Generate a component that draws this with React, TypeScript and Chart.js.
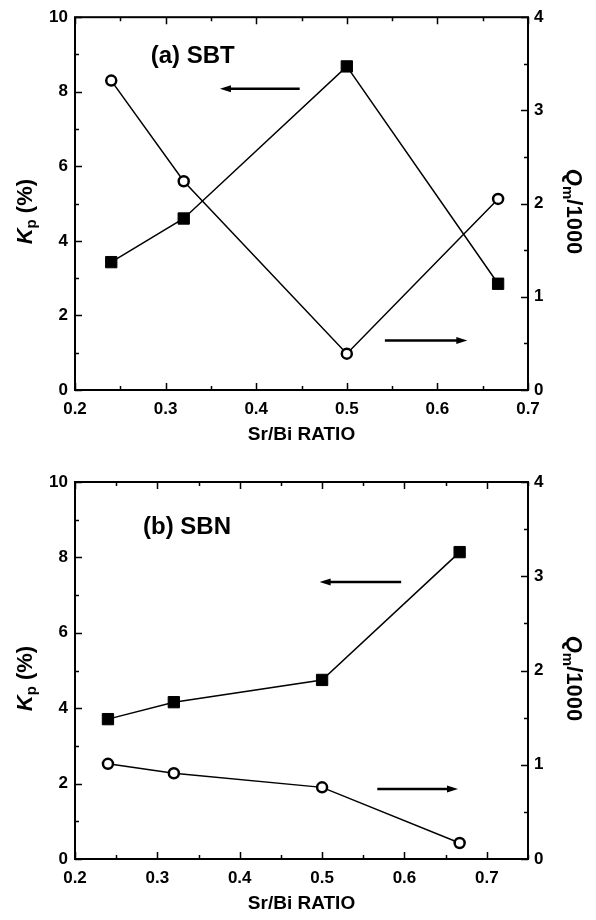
import React, { useEffect, useRef } from 'react';
import { Chart, registerables } from 'chart.js';

Chart.register(...registerables);

// ---- data ----
const sbtRatio = [0.24, 0.32, 0.5, 0.667];
const sbtKp = [3.43, 4.6, 8.68, 2.85];
const sbtQm = [3.32, 2.24, 0.39, 2.05];

const sbnRatio = [0.24, 0.32, 0.5, 0.667];
const sbnKp = [3.71, 4.16, 4.75, 8.14];
const sbnQm = [1.01, 0.91, 0.76, 0.17];

const xTickLabels = [0.2, 0.3, 0.4, 0.5, 0.6, 0.7];
const kpTickLabels = [0, 2, 4, 6, 8, 10];
const qmTickLabels = [0, 1, 2, 3, 4];

const panelTitles = ['(a) SBT', '(b) SBN'];
const xTitle = 'Sr/Bi RATIO';

// arrows: [tail x, head x, Kp value] in data units
const sbtArrows = [
  [0.448, 0.36, 8.08],
  [0.542, 0.633, 1.33],
];
const sbnArrows = [
  [0.596, 0.497, 7.35],
  [0.567, 0.665, 1.86],
];

const FONT = '"Liberation Sans", Arial, Helvetica, sans-serif';

function drawRich(ctx: CanvasRenderingContext2D, parts: any[], cx: number, cy: number, angle: number) {
  ctx.save();
  ctx.translate(cx, cy);
  ctx.rotate(angle);
  ctx.textBaseline = 'middle';
  ctx.textAlign = 'left';
  let total = 0;
  const widths = parts.map((p) => {
    ctx.font = p.font;
    const w = ctx.measureText(p.text).width;
    total += w;
    return w;
  });
  let x = -total / 2;
  parts.forEach((p, i) => {
    ctx.font = p.font;
    ctx.fillStyle = '#000';
    ctx.fillText(p.text, x, p.dy || 0);
    x += widths[i];
  });
  ctx.restore();
}

function makePlugin(p: any) {
  return {
    id: 'decor' + p.key,
    afterDatasetsDraw(chart: any) {
      const { ctx, chartArea } = chart;
      const { left, right, top, bottom } = chartArea;
      const sx = chart.scales.x;
      const sy = chart.scales.y;
      const sy1 = chart.scales.y1;
      ctx.save();
      // frame
      ctx.strokeStyle = '#000';
      ctx.lineWidth = 2;
      ctx.strokeRect(left, top, right - left, bottom - top);
      // ticks (inward)
      ctx.lineWidth = 1.5;
      ctx.beginPath();
      const nX = Math.round((p.xMax - 0.2) / 0.05);
      for (let i = 0; i <= nX; i++) {
        const v = 0.2 + i * 0.05;
        const px = Math.round(sx.getPixelForValue(v)) + 0.5;
        const len = i % 2 === 0 ? 7 : 4;
        ctx.moveTo(px, bottom);
        ctx.lineTo(px, bottom - len);
        ctx.moveTo(px, top);
        ctx.lineTo(px, top + len);
      }
      for (let i = 0; i <= 10; i++) {
        const py = Math.round(sy.getPixelForValue(i)) + 0.5;
        const len = i % 2 === 0 ? 7 : 4;
        ctx.moveTo(left, py);
        ctx.lineTo(left + len, py);
      }
      for (let i = 0; i <= 8; i++) {
        const py = Math.round(sy1.getPixelForValue(i * 0.5)) + 0.5;
        const len = i % 2 === 0 ? 7 : 4;
        ctx.moveTo(right, py);
        ctx.lineTo(right - len, py);
      }
      ctx.stroke();

      // arrows
      p.arrows.forEach((a: number[]) => {
        const x1 = sx.getPixelForValue(a[0]);
        const x2 = sx.getPixelForValue(a[1]);
        const y = sy.getPixelForValue(a[2]);
        const dir = Math.sign(x2 - x1);
        ctx.lineWidth = 2.5;
        ctx.beginPath();
        ctx.moveTo(x1, y);
        ctx.lineTo(x2 - dir * 8, y);
        ctx.stroke();
        ctx.beginPath();
        ctx.moveTo(x2, y);
        ctx.lineTo(x2 - dir * 11, y - 3.5);
        ctx.lineTo(x2 - dir * 11, y + 3.5);
        ctx.closePath();
        ctx.fillStyle = '#000';
        ctx.fill();
      });

      // panel label
      ctx.fillStyle = '#000';
      ctx.font = `bold 24px ${FONT}`;
      ctx.textAlign = 'center';
      ctx.textBaseline = 'middle';
      ctx.fillText(p.title, sx.getPixelForValue(p.titlePos[0]), sy.getPixelForValue(p.titlePos[1]));

      // x title
      ctx.font = `bold 19px ${FONT}`;
      ctx.fillText(xTitle, (left + right) / 2, bottom + 45);
      ctx.restore();

      const midY = (top + bottom) / 2 + 8;
      drawRich(
        ctx,
        [
          { text: 'K', font: `italic bold 22px ${FONT}` },
          { text: 'p', font: `bold 15px ${FONT}`, dy: 6 },
          { text: ' (%)', font: `bold 22px ${FONT}` },
        ],
        26,
        midY,
        -Math.PI / 2
      );
      drawRich(
        ctx,
        [
          { text: 'Q', font: `italic bold 22px ${FONT}` },
          { text: 'm', font: `bold 15px ${FONT}`, dy: 6 },
          { text: '/1000', font: `bold 22px ${FONT}` },
        ],
        573,
        midY,
        Math.PI / 2
      );
    },
  };
}

function makeConfig(p: any) {
  const tickFont = { family: FONT, size: 17, weight: 'bold' as const };
  return {
    type: 'scatter' as const,
    data: {
      datasets: [
        {
          label: 'Kp',
          data: p.ratio.map((x: number, i: number) => ({ x, y: p.kp[i] })),
          yAxisID: 'y',
          showLine: true,
          borderColor: '#000',
          borderWidth: 1.5,
          pointStyle: 'rect',
          pointRadius: 8,
          pointBorderWidth: 1,
          pointBackgroundColor: '#000',
          pointBorderColor: '#000',
        },
        {
          label: 'Qm',
          data: p.ratio.map((x: number, i: number) => ({ x, y: p.qm[i] })),
          yAxisID: 'y1',
          showLine: true,
          borderColor: '#000',
          borderWidth: 1.5,
          pointStyle: 'circle',
          pointRadius: 5,
          pointBorderWidth: 2.5,
          pointBackgroundColor: '#fff',
          pointBorderColor: '#000',
        },
      ],
    },
    options: {
      responsive: false,
      animation: false as const,
      events: [],
      layout: { padding: { top: p.padTop, left: 0, right: 0, bottom: 0 } },
      plugins: { legend: { display: false }, tooltip: { enabled: false } },
      scales: {
        x: {
          type: 'linear' as const,
          min: 0.2,
          max: p.xMax,
          afterBuildTicks: (s: any) => {
            s.ticks = xTickLabels.map((v) => ({ value: v }));
          },
          afterFit: (s: any) => {
            s.height = p.xAxisH;
          },
          ticks: {
            callback: (v: any) => Number(v).toFixed(1),
            font: tickFont,
            color: '#000',
            padding: 9,
            maxRotation: 0,
            autoSkip: false,
          },
          grid: { display: false, drawTicks: false },
          border: { display: false },
        },
        y: {
          type: 'linear' as const,
          position: 'left' as const,
          min: 0,
          max: 10,
          afterBuildTicks: (s: any) => {
            s.ticks = kpTickLabels.map((v) => ({ value: v }));
          },
          afterFit: (s: any) => {
            s.width = 75;
          },
          ticks: { font: tickFont, color: '#000', padding: 7, callback: (v: any) => String(v) },
          grid: { display: false, drawTicks: false },
          border: { display: false },
        },
        y1: {
          type: 'linear' as const,
          position: 'right' as const,
          min: 0,
          max: 4,
          afterBuildTicks: (s: any) => {
            s.ticks = qmTickLabels.map((v) => ({ value: v }));
          },
          afterFit: (s: any) => {
            s.width = 68;
          },
          ticks: { font: tickFont, color: '#000', padding: 6, callback: (v: any) => String(v) },
          grid: { display: false, drawTicks: false },
          border: { display: false },
        },
      },
    },
    plugins: [makePlugin(p)],
  };
}

export default function App() {
  const topRef = useRef<HTMLCanvasElement>(null);
  const botRef = useRef<HTMLCanvasElement>(null);

  useEffect(() => {
    const c1 = new Chart(
      topRef.current as HTMLCanvasElement,
      makeConfig({
        key: 'a',
        ratio: sbtRatio,
        kp: sbtKp,
        qm: sbtQm,
        xMax: 0.7,
        padTop: 14,
        xAxisH: 70,
        arrows: sbtArrows,
        title: panelTitles[0],
        titlePos: [0.33, 8.96],
      }) as any
    );
    const c2 = new Chart(
      botRef.current as HTMLCanvasElement,
      makeConfig({
        key: 'b',
        ratio: sbnRatio,
        kp: sbnKp,
        qm: sbnQm,
        xMax: 0.75,
        padTop: 22,
        xAxisH: 61,
        arrows: sbnArrows,
        title: panelTitles[1],
        titlePos: [0.336, 8.8],
      }) as any
    );
    return () => {
      c1.destroy();
      c2.destroy();
    };
  }, []);

  return (
    <div style={{ position: 'absolute', left: 0, top: 0, width: 596, height: 920, background: '#fff' }}>
      <canvas ref={topRef} width={596} height={460} style={{ display: 'block', width: 596, height: 460 }} />
      <canvas ref={botRef} width={596} height={460} style={{ display: 'block', width: 596, height: 460 }} />
    </div>
  );
}
